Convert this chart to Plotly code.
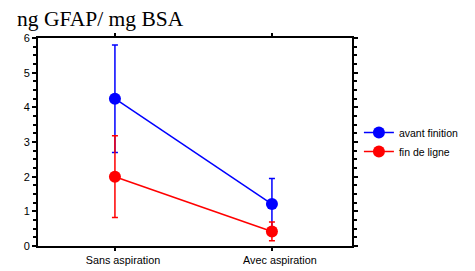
import plotly.graph_objects as go

categories = ["Sans aspiration", "Avec aspiration"]
avant_vals = [4.25, 1.21]
avant_err = [1.55, 0.74]
fin_vals = [2.0, 0.42]
fin_err = [1.18, 0.27]
y_ticks = [0, 1, 2, 3, 4, 5, 6]

fig = go.Figure()
fig.add_trace(go.Scatter(
    x=categories, y=avant_vals, name="avant finition", mode="lines+markers",
    line=dict(color="#0000ff", width=1.5), marker=dict(color="#0000ff", size=12),
    error_y=dict(type="data", array=avant_err, color="#0000ff", thickness=1.5, width=3),
))
fig.add_trace(go.Scatter(
    x=categories, y=fin_vals, name="fin de ligne", mode="lines+markers",
    line=dict(color="#ff0000", width=1.5), marker=dict(color="#ff0000", size=12),
    error_y=dict(type="data", array=fin_err, color="#ff0000", thickness=1.5, width=3),
))

fig.update_layout(
    width=475, height=271,
    margin=dict(l=30, r=131, t=30, b=33, autoexpand=False),
    paper_bgcolor="white", plot_bgcolor="white",
    font=dict(family="Liberation Sans, Arial", color="black", size=10),
    title=dict(text="ng GFAP/ mg BSA", x=0.019, xanchor="left", y=0.96, yanchor="middle",
               font=dict(family="Liberation Serif, Times New Roman", size=21.5, color="black")),
    legend=dict(x=1.022, xanchor="left", y=0.50, yanchor="middle",
                font=dict(size=10.5), itemwidth=30, bgcolor="rgba(0,0,0,0)"),
)
fig.update_xaxes(
    type="category", range=[-0.49, 1.51], showline=True, linecolor="black", linewidth=2,
    mirror="ticks", ticks="outside", ticklen=3, tickwidth=1.5, tickcolor="black",
    showgrid=False, tickfont=dict(size=10.8), zeroline=False, ticklabelshift=8,
)
fig.update_yaxes(
    range=[0, 6], tickvals=y_ticks, showline=True, linecolor="black", linewidth=2,
    mirror="ticks", ticks="outside", ticklen=4, tickwidth=1.5, tickcolor="black",
    showgrid=False, zeroline=False, tickfont=dict(size=11),
    minor=dict(dtick=0.25, ticks="outside", ticklen=3, tickwidth=1.5, tickcolor="black", showgrid=False),
)
fig.write_html("out.html")
